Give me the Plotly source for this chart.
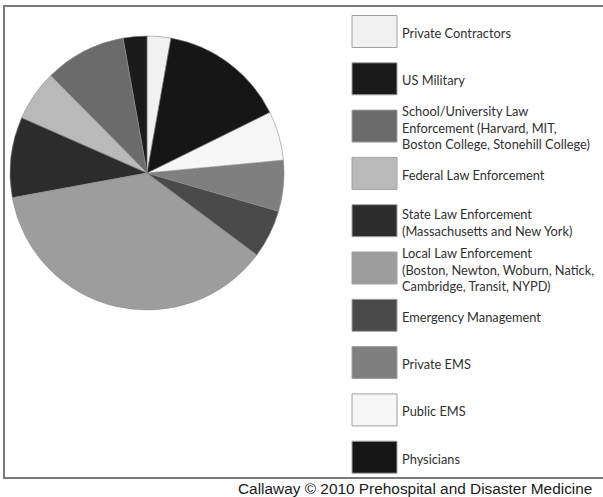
import plotly.graph_objects as go

W, H = 603, 497

labels = [
    "Private Contractors",
    "US Military",
    "School/University Law<br>Enforcement (Harvard, MIT,<br>Boston College, Stonehill College)",
    "Federal Law Enforcement",
    "State Law Enforcement<br>(Massachusetts and New York)",
    "Local Law Enforcement<br>(Boston, Newton, Woburn, Natick,<br>Cambridge, Transit, NYPD)",
    "Emergency Management",
    "Private EMS",
    "Public EMS",
    "Physicians",
]
values = [2.8, 2.8, 9.6, 6.0, 9.5, 36.9, 5.7, 6.0, 5.8, 14.9]
colors = ["#f1f1f1", "#1a1a1a", "#6b6b6b", "#b9b9b9", "#2c2c2c",
          "#9d9d9d", "#4a4a4a", "#7f7f7f", "#f6f6f6", "#161616"]
footer = "Callaway © 2010 Prehospital and Disaster Medicine"

def px_x(x):
    return x / W

def px_y(y):
    return 1 - y / H

cx, cy, r = 147, 173, 137

fig = go.Figure(go.Pie(
    labels=[l.replace("<br>", " ") for l in labels],
    values=values,
    sort=False,
    direction="counterclockwise",
    rotation=0,
    textinfo="none",
    hoverinfo="label+percent",
    marker=dict(colors=colors, line=dict(color="#8a8a8a", width=0.6)),
    domain=dict(x=[px_x(cx - r), px_x(cx + r)], y=[px_y(cy + r), px_y(cy - r)]),
    showlegend=False,
))

shapes = [dict(type="rect", xref="paper", yref="paper",
               x0=px_x(4), x1=px_x(640), y0=px_y(478), y1=px_y(6),
               line=dict(color="#7a7a7a", width=2), fillcolor="rgba(0,0,0,0)", layer="below")]
annotations = []
for i, (lab, col) in enumerate(zip(labels, colors)):
    yc = 31.5 + i * 47.3
    shapes.append(dict(type="rect", xref="paper", yref="paper",
                       x0=px_x(352), x1=px_x(397), y0=px_y(yc + 16), y1=px_y(yc - 16),
                       fillcolor=col, line=dict(color="#a0a0a0", width=1)))
    annotations.append(dict(text=lab, xref="paper", yref="paper",
                            x=px_x(400), y=px_y(yc + 1.5), xanchor="left", yanchor="middle",
                            align="left", showarrow=False,
                            font=dict(family="Lato", size=12.8, color="#303030")))

annotations.append(dict(text=footer, xref="paper", yref="paper",
                        x=px_x(236), y=px_y(488), xanchor="left", yanchor="middle",
                        showarrow=False,
                        font=dict(family="Liberation Sans", size=15.4, color="#1a1a1a")))

fig.update_layout(
    width=W, height=H,
    margin=dict(l=0, r=0, t=0, b=0),
    paper_bgcolor="white", plot_bgcolor="white",
    shapes=shapes, annotations=annotations,
)

fig.write_html("out.html")
